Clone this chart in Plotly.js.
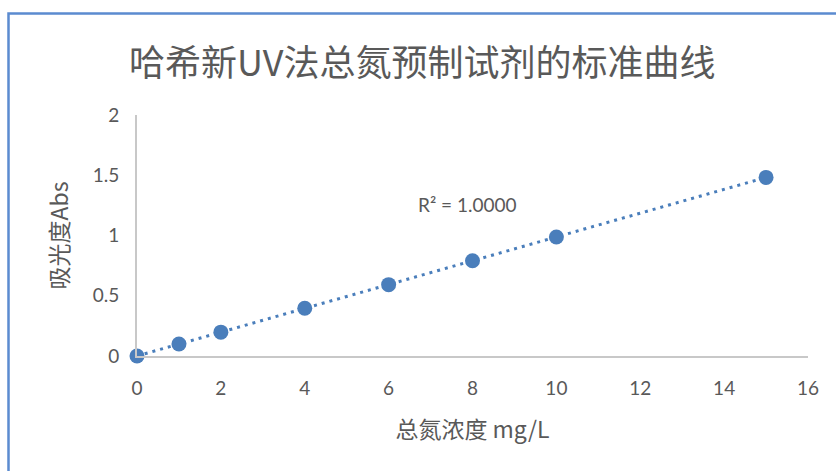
<!DOCTYPE html>
<html>
<head>
<meta charset="utf-8">
<script src="https://cdn.plot.ly/plotly-3.0.1.min.js"></script>
<style>
html,body{margin:0;padding:0;background:#ffffff;}
#chart{width:836px;height:471px;}
</style>
</head>
<body>
<div id="chart"></div>
<script>
// Data
const concentration = [0, 1, 2, 4, 6, 8, 10, 15];          // 总氮浓度 mg/L
const absorbance = [0, 0.099, 0.198, 0.396, 0.592, 0.79, 0.988, 1.482]; // 吸光度Abs
const xTicks = [0, 2, 4, 6, 8, 10, 12, 14, 16];
const yTicks = [0, 0.5, 1, 1.5, 2];
const r2Label = "R² = 1.0000";

// Linear least-squares trendline computed from the data
const n = concentration.length;
const mx = concentration.reduce((a, b) => a + b, 0) / n;
const my = absorbance.reduce((a, b) => a + b, 0) / n;
let sxy = 0, sxx = 0;
for (let i = 0; i < n; i++) {
  sxy += (concentration[i] - mx) * (absorbance[i] - my);
  sxx += (concentration[i] - mx) ** 2;
}
const slope = sxy / sxx;
const intercept = my - slope * mx;
const trendX = [Math.min(...concentration), Math.max(...concentration)];
const trendY = trendX.map(x => intercept + slope * x);

const blue = '#4a7ebb';
const grey = '#595959';
const latin = "Lato, 'Noto Sans CJK SC', sans-serif";
const cjk = "'Noto Sans CJK SC', Lato, sans-serif";

const traces = [
  {
    x: trendX, y: trendY, mode: 'lines', type: 'scatter',
    line: {color: blue, width: 3, dash: '3px,5px'},
    cliponaxis: false, hoverinfo: 'skip', showlegend: false
  },
  {
    x: concentration, y: absorbance, mode: 'markers', type: 'scatter',
    marker: {color: blue, size: 15, line: {width: 0}},
    cliponaxis: false, showlegend: false
  }
];

const layout = {
  width: 836, height: 471,
  margin: {l: 137, r: 28, t: 115, b: 115},
  paper_bgcolor: '#ffffff', plot_bgcolor: '#ffffff',
  showlegend: false,
  title: {
    text: '哈希新UV法总氮预制试剂的标准曲线',
    font: {family: cjk, size: 36, color: grey},
    x: 0.505, xref: 'container', xanchor: 'center',
    y: 0.866, yref: 'container', yanchor: 'middle'
  },
  xaxis: {
    range: [0, 16], tickvals: xTicks, ticktext: xTicks.map(String),
    showgrid: false, zeroline: false,
    showline: true, linecolor: '#c8c8c8', linewidth: 2,
    ticks: 'outside', ticklen: 14, tickcolor: 'rgba(0,0,0,0)',
    tickfont: {family: latin, size: 19, color: grey},
    title: {text: '总氮浓度 mg/L', font: {family: cjk, size: 23, color: grey}, standoff: 24}
  },
  yaxis: {
    range: [0, 2], tickvals: yTicks, ticktext: yTicks.map(String),
    showgrid: false, zeroline: false,
    showline: true, linecolor: '#c8c8c8', linewidth: 2,
    ticks: 'outside', ticklen: 12, tickcolor: 'rgba(0,0,0,0)',
    tickfont: {family: latin, size: 19, color: grey},
    title: {text: '吸光度Abs', font: {family: cjk, size: 23, color: grey}, standoff: 18}
  },
  annotations: [
    {
      text: r2Label, xref: 'paper', yref: 'paper', x: 0.493, y: 0.627,
      xanchor: 'center', yanchor: 'middle', showarrow: false,
      font: {family: latin, size: 19, color: grey}
    }
  ],
  shapes: [
    {
      type: 'rect', xref: 'paper', yref: 'paper',
      x0: -0.1915, x1: 1.06, y0: -0.52, y1: 1.421,
      line: {color: '#5b8bd0', width: 2.5}, fillcolor: 'rgba(0,0,0,0)', layer: 'below'
    }
  ]
};

Plotly.newPlot('chart', traces, layout, {displayModeBar: false, staticPlot: true});
</script>
</body>
</html>
